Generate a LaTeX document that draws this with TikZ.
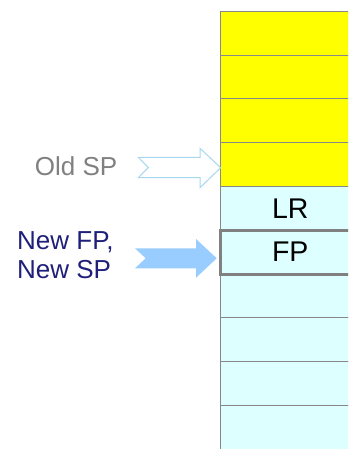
\documentclass[tikz,border=0pt]{standalone}
\usepackage{fontspec}
\setmainfont{Liberation Sans}
\definecolor{stackyellow}{HTML}{FFFF00}
\definecolor{stackcyan}{HTML}{DDFFFF}
\definecolor{cellline}{HTML}{888888}
\definecolor{oldgray}{HTML}{808080}
\definecolor{arrowblue}{HTML}{99CCFF}
\definecolor{arrowline}{HTML}{A6D8F0}
\definecolor{newblue}{HTML}{1F1F7A}

\begin{document}
\begin{tikzpicture}[x=1pt, y=-1pt,
  cell/.style={draw=cellline, line width=1pt, minimum width=139.5pt, minimum height=43.75pt, inner sep=0pt, font=\fontsize{28.5}{32}\selectfont},
  sidetext/.style={inner sep=0pt, font=\fontsize{26}{29}\selectfont}]

\useasboundingbox (0,0) rectangle (348,449);
\clip (0,0) rectangle (348,449);

  % stack
\foreach \i in {0,...,3} \node[cell, fill=stackyellow] (old\i) at (290.25, 33.375+43.75*\i) {};
\node[cell, fill=stackcyan] (lr) at (290.25, 208.375) {LR};
\foreach \i in {0,...,3} \node[cell, fill=stackcyan] (free\i) at (290.25, 295.875+43.75*\i) {};
\node[cell, fill=stackcyan, draw=oldgray, line width=3pt] (fp) at (290.25, 252.125) {FP};

  % pointers
\node[sidetext, text=oldgray, anchor=base east] (oldsp) at (117.5,175.7) {Old SP};
\node[sidetext, text=newblue, align=left, anchor=base west] (newfp) at (17,278.3) {New FP,\\New SP};

\draw[draw=arrowline, fill=white, line width=1pt] (138.3,157.3) -- (200,157.3) -- (200,148.3) -- (220.7,167.7) -- (200,187.7) -- (200,177.7) -- (138.3,177.7) -- (148.3,167.5) -- cycle;
\fill[arrowblue] (135,248.3) -- (196,248.3) -- (196,239) -- (216.7,258.3) -- (196,277.7) -- (196,268.3) -- (135,268.3) -- (145.7,258.3) -- cycle;
\end{tikzpicture}
\end{document}
